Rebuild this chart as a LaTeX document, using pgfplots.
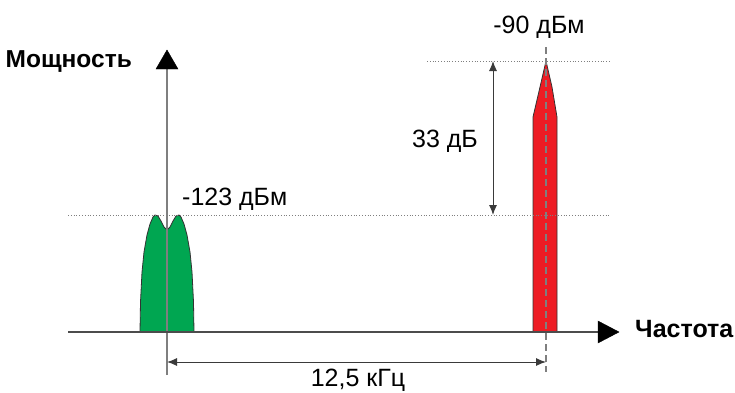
\documentclass[border=0pt]{standalone}
\usepackage{pgfplots}
\pgfplotsset{compat=1.18}
\usepackage{fontspec}
\setmainfont{Liberation Sans}
\usetikzlibrary{arrows.meta}
\definecolor{sgreen}{HTML}{00A651}
\definecolor{sred}{HTML}{ED1C24}
\definecolor{axgray}{HTML}{7F7F7F}
\definecolor{dimgray}{HTML}{3A3A3A}
\begin{document}
\begin{tikzpicture}
\begin{axis}[
  width=735pt, height=392pt, scale only axis,
  xmin=0, xmax=735, ymin=0, ymax=392,
  hide axis, clip=false,
]
% green signal (-123 dBm)
\addplot[fill=sgreen, draw=black!80, line width=0.8pt] coordinates {
 (140,60) (140.5,90) (142,120) (144,140) (147,157) (150,168) (153,175) (155,177)
 (158,176) (161,171) (164,165) (167,162) (170,165) (173,171) (176,176) (179,177)
 (181,175) (184,168) (187,157) (190,140) (192,120) (193.5,90) (194,60)} -- cycle;
% red signal (-90 dBm)
\addplot[fill=sred, draw=black!80, line width=0.8pt] coordinates {
 (533,60) (533,275) (540,305) (546,331) (552,305) (557,275) (557,60)} -- cycle;
% reference dotted lines
\addplot[axgray, dotted, line width=0.8pt] coordinates {(68,177) (610,177)};
\addplot[axgray, dotted, line width=0.8pt] coordinates {(427,331) (610,331)};
% dashed carrier line
\addplot[axgray, dashed, line width=1.2pt, dash pattern=on 7pt off 4pt] coordinates {(546,345) (546,20)};
% axes
\addplot[axgray, line width=1.2pt] coordinates {(167,17) (167,325)};
\addplot[fill=black, draw=black] coordinates {(156,323) (178,323) (167,342)} -- cycle;
\addplot[black!70, line width=1.2pt] coordinates {(68,60) (600,60)};
\addplot[fill=black, draw=black] coordinates {(598,71) (598,49) (619,60)} -- cycle;
% 33 dB dimension
\addplot[dimgray, line width=1pt, {Latex[length=10pt,width=8pt]}-{Latex[length=10pt,width=8pt]}] coordinates {(493,331) (493,177)};
% 12.5 kHz dimension
\addplot[dimgray, line width=1pt, {Latex[length=10pt,width=8pt]}-{Latex[length=10pt,width=8pt]}] coordinates {(167,30) (546,30)};
% labels
\node[anchor=base east, inner sep=0pt, font=\fontsize{24.5}{28}\selectfont\bfseries] at (axis cs:132,325) {Мощность};
\node[anchor=base west, inner sep=0pt, font=\fontsize{25}{28}\selectfont\bfseries] at (axis cs:635,55) {Частота};
\node[anchor=base west, inner sep=0pt, font=\fontsize{25}{28}\selectfont] at (axis cs:182,187) {-123 дБм};
\node[anchor=base, inner sep=0pt, font=\fontsize{25}{28}\selectfont] at (axis cs:539,359) {-90 дБм};
\node[anchor=base, inner sep=0pt, font=\fontsize{25}{28}\selectfont] at (axis cs:445,245) {33 дБ};
\node[anchor=base, inner sep=0pt, font=\fontsize{25}{28}\selectfont] at (axis cs:358,6) {12,5 кГц};
\end{axis}
\pgfresetboundingbox
\useasboundingbox (0,0) rectangle (735pt,392pt);
\end{tikzpicture}
\end{document}
